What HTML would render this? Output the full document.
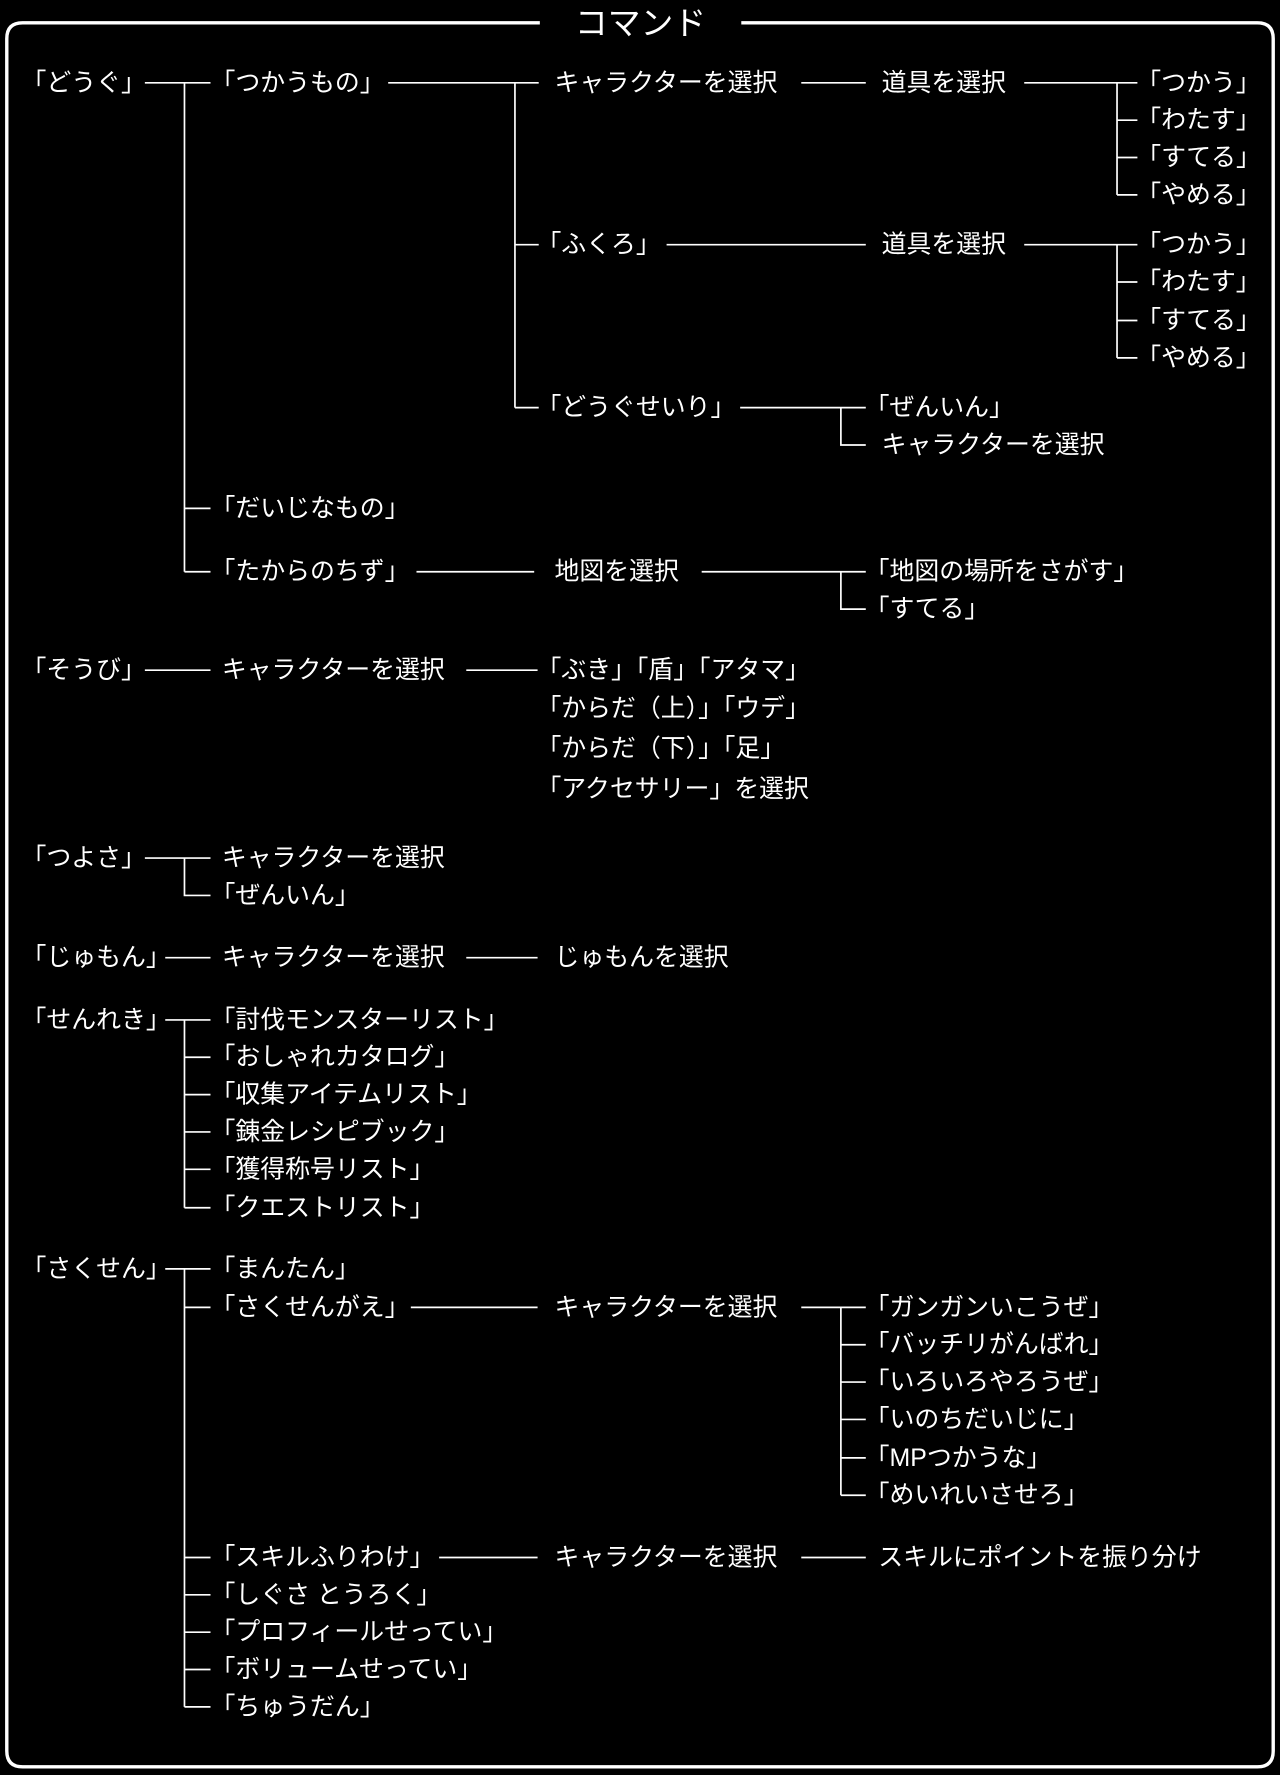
<!DOCTYPE html>
<html><head><meta charset="utf-8"><style>
html,body{margin:0;padding:0;background:#000;}
svg{display:block;}
text{font-family:"Liberation Sans","Noto Sans CJK JP",sans-serif;font-size:22px;fill:#fff;dominant-baseline:central;}
</style></head><body>
<svg width="1280" height="1775" viewBox="0 0 1131 1568" xmlns="http://www.w3.org/2000/svg">
<rect width="1131" height="1568" fill="#000"/>
<path d="M477 20 H20 Q6 20 6 34 V1547 Q6 1561 20 1561 H1111 Q1125 1561 1125 1547 V34 Q1125 20 1111 20 H655" fill="none" stroke="#fff" stroke-width="3"/>
<text x="508" y="20" style="font-size:29px">コマンド</text>
<g stroke="#fff" stroke-width="1.5" fill="none">
<path d="M128 73H186M163 73V505M163 449H186M163 505H186"/>
<path d="M343 73H476M455 73V360M455 216H476M455 360H476"/>
<path d="M708 73H765M905 73H1005M987 73V172M987 106H1005M987 139H1005M987 172H1005"/>
<path d="M589 216H765M905 216H1005M987 216V316M987 249H1005M987 283H1005M987 316H1005"/>
<path d="M654 360H765M743 360V393H765"/>
<path d="M368 505H472M620 505H765M743 505V538H765"/>
<path d="M128 592H186M412 592H475"/>
<path d="M128 758H186M163 758V791H186"/>
<path d="M146 846H186M412 846H475"/>
<path d="M146 901H186M163 901V1067M163 934H186M163 967H186M163 1000H186M163 1033H186M163 1067H186"/>
<path d="M146 1121H186M163 1121V1508M163 1155H186M163 1376H186M163 1409H186M163 1442H186M163 1475H186M163 1508H186"/>
<path d="M363 1155H475M708 1155H765M743 1155V1321M743 1188H765M743 1221H765M743 1254H765M743 1288H765M743 1321H765"/>
<path d="M388 1376H475M708 1376H765"/>
</g>
<text x="19" y="73">「どうぐ」</text>
<text x="186" y="73">「つかうもの」</text>
<text x="490" y="73">キャラクターを選択</text>
<text x="779" y="73">道具を選択</text>
<text x="1004" y="73">「つかう」</text>
<text x="1004" y="106">「わたす」</text>
<text x="1004" y="139">「すてる」</text>
<text x="1004" y="172">「やめる」</text>
<text x="474" y="216">「ふくろ」</text>
<text x="779" y="216">道具を選択</text>
<text x="1004" y="216">「つかう」</text>
<text x="1004" y="249">「わたす」</text>
<text x="1004" y="283">「すてる」</text>
<text x="1004" y="316">「やめる」</text>
<text x="474" y="360">「どうぐせいり」</text>
<text x="764" y="360">「ぜんいん」</text>
<text x="779" y="393">キャラクターを選択</text>
<text x="186" y="449">「だいじなもの」</text>
<text x="186" y="505">「たからのちず」</text>
<text x="490" y="505">地図を選択</text>
<text x="764" y="505">「地図の場所をさがす」</text>
<text x="764" y="538">「すてる」</text>
<text x="19" y="592">「そうび」</text>
<text x="196" y="592">キャラクターを選択</text>
<text x="474" y="592">「ぶき」「盾」「アタマ」</text>
<text x="474" y="626">「からだ（上）」「ウデ」</text>
<text x="474" y="661">「からだ（下）」「足」</text>
<text x="474" y="697">「アクセサリー」を選択</text>
<text x="19" y="758">「つよさ」</text>
<text x="196" y="758">キャラクターを選択</text>
<text x="186" y="791">「ぜんいん」</text>
<text x="19" y="846">「じゅもん」</text>
<text x="196" y="846">キャラクターを選択</text>
<text x="490" y="846">じゅもんを選択</text>
<text x="19" y="901">「せんれき」</text>
<text x="186" y="901">「討伐モンスターリスト」</text>
<text x="186" y="934">「おしゃれカタログ」</text>
<text x="186" y="967">「収集アイテムリスト」</text>
<text x="186" y="1000">「錬金レシピブック」</text>
<text x="186" y="1033">「獲得称号リスト」</text>
<text x="186" y="1067">「クエストリスト」</text>
<text x="19" y="1121">「さくせん」</text>
<text x="186" y="1121">「まんたん」</text>
<text x="186" y="1155">「さくせんがえ」</text>
<text x="490" y="1155">キャラクターを選択</text>
<text x="764" y="1155">「ガンガンいこうぜ」</text>
<text x="764" y="1188">「バッチリがんばれ」</text>
<text x="764" y="1221">「いろいろやろうぜ」</text>
<text x="764" y="1254">「いのちだいじに」</text>
<text x="764" y="1288">「MPつかうな」</text>
<text x="764" y="1321">「めいれいさせろ」</text>
<text x="186" y="1376">「スキルふりわけ」</text>
<text x="490" y="1376">キャラクターを選択</text>
<text x="776" y="1376">スキルにポイントを振り分け</text>
<text x="186" y="1409">「しぐさ とうろく」</text>
<text x="186" y="1442">「プロフィールせってい」</text>
<text x="186" y="1475">「ボリュームせってい」</text>
<text x="186" y="1508">「ちゅうだん」</text>
</svg>
</body></html>
